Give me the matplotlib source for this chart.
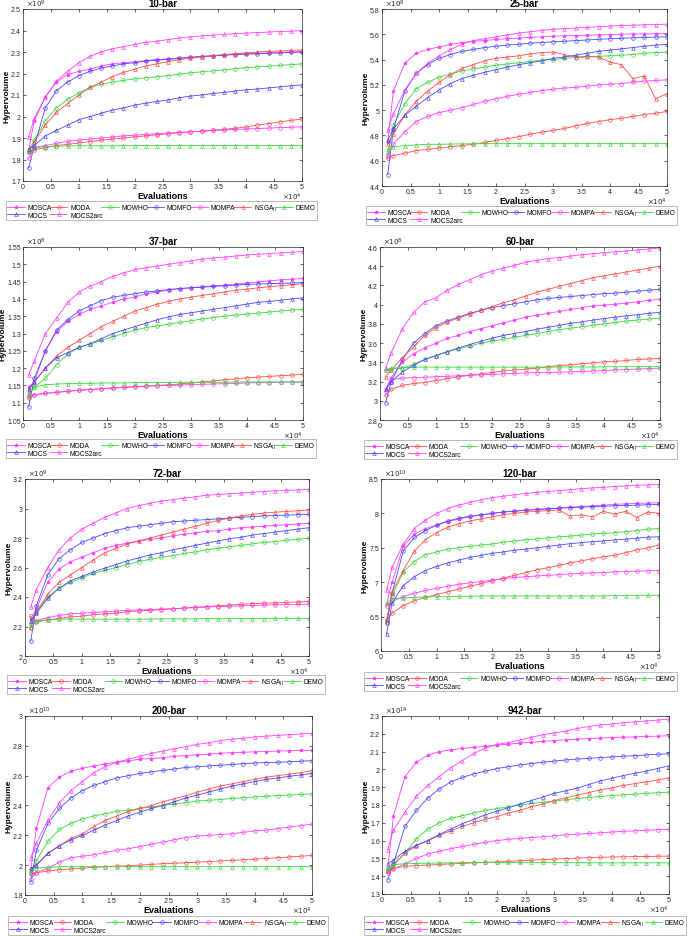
import matplotlib
matplotlib.use("Agg")
import matplotlib.pyplot as plt
from matplotlib.ticker import FuncFormatter

plt.rcParams['font.family'] = ['Liberation Sans', 'DejaVu Sans']

# evaluations where the hypervolume was sampled
evals = [1000, 2000, 4000, 6000, 8000, 10000, 12000, 14000, 16000, 18000, 20000,
         22000, 24000, 26000, 28000, 30000, 32000, 34000, 36000, 38000, 40000,
         42000, 44000, 46000, 48000, 50000]

algos = ['MOSCA', 'MODA', 'MOWHO', 'MOMFO', 'MOMPA', 'NSGA$_\\mathrm{II}$', 'DEMO', 'MOCS', 'MOCS2arc']

# ---- 10-bar (x1e9)
b10_mosca = [1.84, 1.98, 2.09, 2.16, 2.195, 2.21, 2.22, 2.235, 2.245, 2.25, 2.255, 2.26, 2.265, 2.268, 2.272, 2.276, 2.28, 2.283, 2.286, 2.289, 2.292, 2.294, 2.296, 2.298, 2.30, 2.302]
b10_moda = [1.84, 1.845, 1.855, 1.865, 1.87, 1.877, 1.883, 1.89, 1.895, 1.90, 1.905, 1.91, 1.915, 1.92, 1.925, 1.928, 1.932, 1.936, 1.94, 1.945, 1.952, 1.96, 1.967, 1.975, 1.982, 1.988]
b10_mowho = [1.84, 1.89, 1.98, 2.04, 2.08, 2.11, 2.135, 2.15, 2.16, 2.168, 2.175, 2.18, 2.185, 2.19, 2.197, 2.203, 2.208, 2.212, 2.217, 2.222, 2.227, 2.231, 2.234, 2.238, 2.241, 2.245]
b10_momfo = [1.76, 1.86, 2.04, 2.12, 2.16, 2.19, 2.21, 2.225, 2.235, 2.245, 2.25, 2.258, 2.262, 2.266, 2.27, 2.275, 2.278, 2.282, 2.285, 2.288, 2.29, 2.292, 2.294, 2.296, 2.298, 2.30]
b10_mompa = [1.805, 1.855, 1.865, 1.875, 1.885, 1.89, 1.895, 1.90, 1.905, 1.91, 1.913, 1.917, 1.92, 1.923, 1.926, 1.929, 1.932, 1.935, 1.937, 1.94, 1.942, 1.944, 1.946, 1.948, 1.95, 1.952]
b10_nsga = [1.835, 1.88, 1.96, 2.02, 2.06, 2.10, 2.135, 2.16, 2.185, 2.205, 2.22, 2.235, 2.245, 2.255, 2.265, 2.27, 2.278, 2.283, 2.288, 2.292, 2.296, 2.30, 2.303, 2.305, 2.307, 2.31]
b10_demo = [1.84, 1.855, 1.86, 1.862, 1.863, 1.864, 1.864, 1.864, 1.864, 1.864, 1.865, 1.865, 1.865, 1.865, 1.865, 1.865, 1.865, 1.865, 1.865, 1.865, 1.865, 1.865, 1.865, 1.865, 1.865, 1.865]
b10_mocs = [1.85, 1.865, 1.91, 1.935, 1.96, 1.985, 2.0, 2.015, 2.03, 2.04, 2.053, 2.062, 2.07, 2.077, 2.087, 2.095, 2.10, 2.107, 2.112, 2.118, 2.124, 2.128, 2.133, 2.138, 2.143, 2.147]
b10_mocs2 = [1.905, 1.99, 2.09, 2.165, 2.21, 2.25, 2.28, 2.30, 2.315, 2.325, 2.335, 2.345, 2.35, 2.358, 2.365, 2.37, 2.375, 2.378, 2.382, 2.385, 2.388, 2.39, 2.393, 2.395, 2.397, 2.40]

# ---- 25-bar (x1e8)
b25_mosca = [4.75, 5.15, 5.37, 5.45, 5.48, 5.50, 5.52, 5.535, 5.545, 5.55, 5.56, 5.565, 5.57, 5.575, 5.58, 5.585, 5.588, 5.59, 5.593, 5.595, 5.598, 5.60, 5.602, 5.603, 5.604, 5.605]
b25_moda = [4.62, 4.64, 4.66, 4.68, 4.69, 4.70, 4.71, 4.72, 4.73, 4.745, 4.76, 4.775, 4.79, 4.81, 4.825, 4.84, 4.855, 4.875, 4.895, 4.91, 4.925, 4.935, 4.95, 4.965, 4.975, 4.99]
b25_mowho = [4.65, 4.88, 5.05, 5.17, 5.22, 5.26, 5.285, 5.31, 5.325, 5.34, 5.355, 5.365, 5.375, 5.385, 5.395, 5.40, 5.41, 5.415, 5.42, 5.425, 5.43, 5.435, 5.44, 5.45, 5.455, 5.46]
b25_momfo = [4.49, 4.85, 5.15, 5.29, 5.36, 5.41, 5.44, 5.465, 5.48, 5.495, 5.505, 5.515, 5.52, 5.53, 5.535, 5.54, 5.545, 5.55, 5.555, 5.56, 5.565, 5.568, 5.572, 5.575, 5.578, 5.58]
b25_mompa = [4.64, 4.73, 4.83, 4.91, 4.95, 4.98, 5.00, 5.02, 5.045, 5.07, 5.09, 5.11, 5.125, 5.14, 5.155, 5.165, 5.175, 5.18, 5.19, 5.20, 5.205, 5.21, 5.22, 5.23, 5.235, 5.24]
b25_nsga = [4.73, 4.81, 4.96, 5.07, 5.15, 5.22, 5.28, 5.33, 5.36, 5.39, 5.41, 5.42, 5.43, 5.445, 5.455, 5.46, 5.44, 5.42, 5.425, 5.42, 5.38, 5.36, 5.25, 5.27, 5.09, 5.13]
b25_demo = [4.69, 4.71, 4.72, 4.725, 4.73, 4.73, 4.732, 4.733, 4.734, 4.735, 4.735, 4.735, 4.735, 4.735, 4.735, 4.735, 4.735, 4.735, 4.735, 4.735, 4.735, 4.735, 4.735, 4.735, 4.735, 4.735]
b25_mocs = [4.76, 4.85, 4.96, 5.03, 5.10, 5.16, 5.21, 5.25, 5.275, 5.30, 5.32, 5.34, 5.36, 5.375, 5.39, 5.41, 5.42, 5.435, 5.45, 5.465, 5.475, 5.485, 5.495, 5.505, 5.515, 5.52]
b25_mocs2 = [4.84, 4.97, 5.16, 5.29, 5.37, 5.43, 5.48, 5.52, 5.55, 5.565, 5.58, 5.595, 5.61, 5.62, 5.63, 5.64, 5.645, 5.65, 5.655, 5.66, 5.665, 5.67, 5.672, 5.675, 5.677, 5.68]

# ---- 37-bar (x1e8)
b37_mosca = [1.145, 1.16, 1.25, 1.305, 1.335, 1.355, 1.37, 1.38, 1.39, 1.40, 1.405, 1.415, 1.42, 1.425, 1.43, 1.432, 1.435, 1.438, 1.44, 1.443, 1.446, 1.449, 1.452, 1.455, 1.457, 1.459]
b37_moda = [1.115, 1.122, 1.127, 1.13, 1.133, 1.136, 1.138, 1.14, 1.142, 1.144, 1.146, 1.148, 1.15, 1.152, 1.154, 1.157, 1.16, 1.163, 1.166, 1.169, 1.172, 1.174, 1.176, 1.178, 1.18, 1.182]
b37_mowho = [1.12, 1.145, 1.17, 1.21, 1.24, 1.26, 1.27, 1.28, 1.29, 1.30, 1.31, 1.317, 1.322, 1.327, 1.332, 1.337, 1.342, 1.346, 1.35, 1.353, 1.356, 1.359, 1.362, 1.365, 1.368, 1.37]
b37_momfo = [1.088, 1.17, 1.25, 1.31, 1.34, 1.365, 1.38, 1.395, 1.405, 1.41, 1.415, 1.42, 1.423, 1.427, 1.43, 1.432, 1.434, 1.436, 1.438, 1.44, 1.442, 1.443, 1.444, 1.445, 1.446, 1.447]
b37_mompa = [1.12, 1.123, 1.127, 1.13, 1.133, 1.136, 1.138, 1.14, 1.143, 1.145, 1.147, 1.148, 1.149, 1.15, 1.151, 1.152, 1.153, 1.154, 1.155, 1.156, 1.157, 1.158, 1.158, 1.159, 1.16, 1.16]
b37_nsga = [1.135, 1.16, 1.20, 1.235, 1.26, 1.28, 1.30, 1.32, 1.335, 1.35, 1.365, 1.375, 1.385, 1.393, 1.40, 1.405, 1.41, 1.415, 1.42, 1.425, 1.428, 1.432, 1.435, 1.438, 1.441, 1.444]
b37_demo = [1.125, 1.145, 1.152, 1.154, 1.155, 1.156, 1.156, 1.157, 1.157, 1.157, 1.158, 1.158, 1.158, 1.158, 1.159, 1.159, 1.159, 1.159, 1.159, 1.16, 1.16, 1.16, 1.16, 1.16, 1.16, 1.16]
b37_mocs = [1.14, 1.16, 1.20, 1.23, 1.245, 1.26, 1.27, 1.285, 1.30, 1.31, 1.32, 1.33, 1.34, 1.348, 1.355, 1.36, 1.365, 1.37, 1.375, 1.38, 1.385, 1.39, 1.393, 1.396, 1.40, 1.403]
b37_mocs2 = [1.18, 1.22, 1.30, 1.345, 1.39, 1.42, 1.437, 1.45, 1.465, 1.475, 1.485, 1.49, 1.495, 1.50, 1.505, 1.51, 1.515, 1.518, 1.521, 1.524, 1.527, 1.529, 1.531, 1.533, 1.535, 1.537]

# ---- 60-bar (x1e8)
b60_mosca = [3.12, 3.24, 3.40, 3.49, 3.55, 3.60, 3.65, 3.68, 3.72, 3.75, 3.78, 3.81, 3.84, 3.87, 3.89, 3.91, 3.93, 3.95, 3.97, 3.985, 3.995, 4.005, 4.015, 4.03, 4.045, 4.055]
b60_moda = [3.06, 3.12, 3.16, 3.18, 3.19, 3.21, 3.23, 3.25, 3.265, 3.28, 3.295, 3.31, 3.32, 3.33, 3.34, 3.355, 3.365, 3.375, 3.385, 3.395, 3.405, 3.41, 3.42, 3.43, 3.435, 3.44]
b60_mowho = [3.32, 3.33, 3.34, 3.38, 3.43, 3.47, 3.51, 3.54, 3.57, 3.60, 3.62, 3.64, 3.66, 3.68, 3.70, 3.72, 3.74, 3.755, 3.77, 3.785, 3.80, 3.815, 3.83, 3.84, 3.85, 3.86]
b60_momfo = [2.98, 3.20, 3.43, 3.60, 3.70, 3.78, 3.83, 3.87, 3.91, 3.94, 3.97, 3.99, 4.01, 4.03, 4.05, 4.065, 4.075, 4.085, 4.095, 4.105, 4.115, 4.12, 4.13, 4.14, 4.15, 4.16]
b60_mompa = [3.10, 3.22, 3.235, 3.24, 3.245, 3.25, 3.255, 3.26, 3.265, 3.27, 3.275, 3.28, 3.285, 3.29, 3.292, 3.295, 3.298, 3.30, 3.305, 3.31, 3.315, 3.32, 3.325, 3.33, 3.335, 3.34]
b60_nsga = [3.25, 3.32, 3.45, 3.56, 3.68, 3.76, 3.82, 3.86, 3.90, 3.94, 3.98, 4.02, 4.05, 4.09, 4.13, 4.16, 4.19, 4.22, 4.25, 4.28, 4.30, 4.32, 4.34, 4.36, 4.38, 4.40]
b60_demo = [3.32, 3.34, 3.345, 3.35, 3.35, 3.35, 3.35, 3.35, 3.35, 3.35, 3.35, 3.35, 3.35, 3.35, 3.35, 3.35, 3.352, 3.352, 3.352, 3.352, 3.354, 3.354, 3.354, 3.355, 3.355, 3.355]
b60_mocs = [3.12, 3.20, 3.30, 3.37, 3.43, 3.47, 3.51, 3.55, 3.585, 3.62, 3.65, 3.68, 3.70, 3.72, 3.745, 3.765, 3.785, 3.805, 3.82, 3.84, 3.855, 3.87, 3.885, 3.895, 3.91, 3.92]
b60_mocs2 = [3.34, 3.50, 3.75, 3.92, 4.03, 4.07, 4.15, 4.21, 4.26, 4.31, 4.35, 4.38, 4.41, 4.44, 4.46, 4.48, 4.49, 4.505, 4.52, 4.53, 4.54, 4.55, 4.56, 4.57, 4.58, 4.59]

# ---- 72-bar (x1e9)
b72_mosca = [2.25, 2.32, 2.50, 2.59, 2.64, 2.67, 2.70, 2.73, 2.75, 2.765, 2.78, 2.79, 2.80, 2.815, 2.825, 2.835, 2.845, 2.85, 2.86, 2.87, 2.875, 2.88, 2.885, 2.89, 2.895, 2.90]
b72_moda = [2.27, 2.23, 2.245, 2.255, 2.265, 2.27, 2.28, 2.285, 2.29, 2.30, 2.305, 2.31, 2.315, 2.32, 2.325, 2.33, 2.335, 2.34, 2.345, 2.35, 2.355, 2.358, 2.36, 2.363, 2.366, 2.37]
b72_mowho = [2.22, 2.30, 2.40, 2.46, 2.50, 2.53, 2.56, 2.58, 2.60, 2.62, 2.64, 2.655, 2.67, 2.68, 2.695, 2.705, 2.72, 2.73, 2.74, 2.75, 2.76, 2.77, 2.775, 2.785, 2.79, 2.80]
b72_momfo = [2.10, 2.34, 2.55, 2.66, 2.72, 2.77, 2.80, 2.83, 2.85, 2.87, 2.88, 2.89, 2.90, 2.91, 2.915, 2.92, 2.925, 2.93, 2.935, 2.94, 2.945, 2.95, 2.952, 2.955, 2.958, 2.96]
b72_mompa = [2.19, 2.24, 2.26, 2.275, 2.285, 2.29, 2.295, 2.30, 2.305, 2.31, 2.312, 2.315, 2.318, 2.32, 2.325, 2.328, 2.332, 2.335, 2.338, 2.34, 2.343, 2.345, 2.347, 2.349, 2.35, 2.352]
b72_nsga = [2.20, 2.30, 2.42, 2.50, 2.55, 2.60, 2.65, 2.70, 2.73, 2.76, 2.78, 2.80, 2.82, 2.84, 2.86, 2.88, 2.90, 2.92, 2.935, 2.95, 2.96, 2.97, 2.975, 2.98, 2.985, 2.99]
b72_demo = [2.21, 2.24, 2.245, 2.25, 2.25, 2.25, 2.25, 2.25, 2.25, 2.25, 2.25, 2.25, 2.252, 2.252, 2.252, 2.252, 2.253, 2.253, 2.253, 2.254, 2.254, 2.254, 2.255, 2.255, 2.255, 2.255]
b72_mocs = [2.24, 2.29, 2.39, 2.46, 2.51, 2.54, 2.57, 2.595, 2.62, 2.645, 2.665, 2.685, 2.70, 2.72, 2.735, 2.75, 2.765, 2.78, 2.795, 2.805, 2.82, 2.83, 2.84, 2.85, 2.86, 2.87]
b72_mocs2 = [2.33, 2.45, 2.60, 2.72, 2.80, 2.86, 2.90, 2.94, 2.97, 3.00, 3.02, 3.035, 3.05, 3.06, 3.07, 3.08, 3.09, 3.095, 3.10, 3.105, 3.11, 3.115, 3.12, 3.123, 3.126, 3.13]

# ---- 120-bar (x1e10)
b120_mosca = [6.68, 7.00, 7.52, 7.70, 7.78, 7.83, 7.88, 7.92, 7.95, 7.98, 8.00, 8.02, 8.035, 8.05, 8.06, 8.07, 8.08, 8.09, 8.10, 8.11, 8.12, 8.13, 8.14, 8.145, 8.15, 8.155]
b120_moda = [6.45, 6.55, 6.66, 6.73, 6.78, 6.82, 6.86, 6.90, 6.94, 6.98, 7.02, 7.06, 7.10, 7.14, 7.18, 7.21, 7.245, 7.28, 7.31, 7.34, 7.37, 7.39, 7.43, 7.47, 7.50, 7.54]
b120_mowho = [6.40, 6.80, 7.15, 7.30, 7.40, 7.44, 7.48, 7.50, 7.52, 7.54, 7.555, 7.58, 7.60, 7.615, 7.63, 7.645, 7.66, 7.67, 7.685, 7.70, 7.71, 7.72, 7.735, 7.75, 7.77, 7.78]
b120_momfo = [6.40, 6.85, 7.45, 7.65, 7.75, 7.83, 7.89, 7.93, 7.96, 7.98, 8.00, 8.02, 8.03, 8.045, 8.055, 8.065, 8.075, 8.085, 8.09, 8.10, 8.105, 8.11, 8.115, 8.12, 8.125, 8.13]
b120_mompa = [6.65, 6.72, 6.79, 6.84, 6.88, 6.91, 6.94, 6.97, 6.99, 7.01, 7.03, 7.05, 7.07, 7.08, 7.09, 7.10, 7.11, 7.12, 7.13, 7.135, 7.14, 7.15, 7.155, 7.16, 7.165, 7.17]
b120_nsga = [6.45, 6.85, 7.17, 7.45, 7.62, 7.72, 7.80, 7.85, 7.89, 7.92, 7.95, 7.98, 8.00, 8.02, 8.03, 8.04, 8.05, 7.96, 7.98, 7.95, 8.03, 7.99, 8.03, 7.94, 8.02, 8.00]
b120_demo = [6.70, 6.76, 6.77, 6.78, 6.785, 6.79, 6.79, 6.795, 6.795, 6.80, 6.80, 6.80, 6.80, 6.80, 6.80, 6.80, 6.80, 6.80, 6.80, 6.80, 6.80, 6.805, 6.805, 6.805, 6.81, 6.81]
b120_mocs = [6.25, 6.70, 6.95, 7.08, 7.17, 7.23, 7.28, 7.32, 7.36, 7.39, 7.42, 7.44, 7.465, 7.48, 7.50, 7.52, 7.54, 7.56, 7.575, 7.59, 7.60, 7.615, 7.625, 7.64, 7.655, 7.66]
b120_mocs2 = [6.88, 7.22, 7.55, 7.78, 7.90, 8.00, 8.07, 8.12, 8.16, 8.20, 8.23, 8.25, 8.27, 8.29, 8.305, 8.32, 8.33, 8.345, 8.36, 8.37, 8.38, 8.39, 8.40, 8.41, 8.415, 8.42]

# ---- 200-bar (x1e10)
b200_mosca = [1.97, 2.25, 2.52, 2.59, 2.63, 2.65, 2.665, 2.68, 2.69, 2.70, 2.71, 2.715, 2.72, 2.73, 2.735, 2.74, 2.745, 2.75, 2.755, 2.757, 2.76, 2.762, 2.765, 2.767, 2.769, 2.77]
b200_moda = [1.94, 1.95, 1.96, 1.97, 1.975, 1.98, 1.985, 1.99, 1.993, 1.996, 2.0, 2.005, 2.01, 2.013, 2.016, 2.02, 2.024, 2.028, 2.032, 2.036, 2.04, 2.045, 2.05, 2.055, 2.06, 2.065]
b200_mowho = [1.95, 2.03, 2.16, 2.24, 2.28, 2.31, 2.33, 2.345, 2.36, 2.37, 2.38, 2.39, 2.40, 2.41, 2.42, 2.43, 2.435, 2.44, 2.447, 2.452, 2.457, 2.462, 2.466, 2.47, 2.474, 2.478]
b200_momfo = [1.89, 2.10, 2.28, 2.38, 2.45, 2.50, 2.535, 2.56, 2.585, 2.60, 2.615, 2.625, 2.635, 2.645, 2.655, 2.66, 2.665, 2.67, 2.675, 2.68, 2.685, 2.688, 2.69, 2.693, 2.697, 2.70]
b200_mompa = [1.91, 1.95, 1.98, 2.02, 2.05, 2.06, 2.07, 2.085, 2.10, 2.11, 2.125, 2.14, 2.155, 2.17, 2.185, 2.195, 2.20, 2.205, 2.21, 2.22, 2.23, 2.235, 2.245, 2.255, 2.265, 2.275]
b200_nsga = [1.97, 2.00, 2.08, 2.13, 2.18, 2.21, 2.26, 2.30, 2.33, 2.36, 2.38, 2.40, 2.425, 2.445, 2.465, 2.49, 2.51, 2.53, 2.545, 2.56, 2.575, 2.59, 2.60, 2.61, 2.62, 2.635]
b200_demo = [1.97, 1.98, 1.985, 1.99, 1.99, 1.99, 1.99, 1.99, 1.99, 1.99, 1.99, 1.99, 1.99, 1.99, 1.99, 1.99, 1.99, 1.99, 1.99, 1.99, 1.99, 1.99, 1.99, 1.99, 1.99, 1.99]
b200_mocs = [1.98, 2.00, 2.08, 2.13, 2.17, 2.20, 2.235, 2.27, 2.30, 2.33, 2.355, 2.38, 2.40, 2.425, 2.45, 2.47, 2.49, 2.51, 2.53, 2.545, 2.56, 2.575, 2.585, 2.595, 2.605, 2.615]
b200_mocs2 = [2.05, 2.15, 2.30, 2.42, 2.50, 2.56, 2.62, 2.66, 2.69, 2.71, 2.73, 2.75, 2.765, 2.78, 2.795, 2.81, 2.82, 2.835, 2.845, 2.85, 2.86, 2.865, 2.87, 2.875, 2.88, 2.885]

# ---- 942-bar (x1e14)
b942_mosca = [1.44, 1.74, 1.96, 2.04, 2.08, 2.10, 2.11, 2.118, 2.124, 2.13, 2.137, 2.142, 2.147, 2.152, 2.157, 2.162, 2.166, 2.17, 2.173, 2.176, 2.179, 2.181, 2.183, 2.185, 2.187, 2.189]
b942_moda = [1.43, 1.445, 1.455, 1.46, 1.463, 1.466, 1.469, 1.472, 1.475, 1.477, 1.48, 1.483, 1.487, 1.49, 1.493, 1.496, 1.499, 1.502, 1.504, 1.506, 1.508, 1.509, 1.51, 1.511, 1.512, 1.513]
b942_mowho = [1.44, 1.47, 1.53, 1.61, 1.665, 1.70, 1.725, 1.74, 1.755, 1.77, 1.78, 1.79, 1.80, 1.808, 1.815, 1.822, 1.83, 1.836, 1.842, 1.848, 1.853, 1.857, 1.861, 1.865, 1.869, 1.872]
b942_momfo = [1.38, 1.47, 1.68, 1.77, 1.84, 1.89, 1.93, 1.955, 1.975, 1.99, 2.005, 2.015, 2.025, 2.033, 2.04, 2.047, 2.053, 2.058, 2.062, 2.066, 2.07, 2.074, 2.077, 2.081, 2.085, 2.088]
b942_mompa = [1.42, 1.44, 1.47, 1.50, 1.525, 1.54, 1.555, 1.567, 1.58, 1.59, 1.60, 1.607, 1.612, 1.617, 1.622, 1.627, 1.632, 1.636, 1.64, 1.644, 1.648, 1.652, 1.655, 1.658, 1.661, 1.664]
b942_nsga = [1.43, 1.46, 1.53, 1.57, 1.60, 1.63, 1.655, 1.68, 1.70, 1.72, 1.735, 1.755, 1.77, 1.79, 1.805, 1.825, 1.84, 1.855, 1.87, 1.885, 1.895, 1.91, 1.92, 1.93, 1.94, 1.953]
b942_demo = [1.44, 1.465, 1.47, 1.472, 1.473, 1.474, 1.475, 1.476, 1.477, 1.477, 1.478, 1.478, 1.478, 1.478, 1.477, 1.477, 1.476, 1.476, 1.475, 1.475, 1.475, 1.475, 1.475, 1.475, 1.475, 1.475]
b942_mocs = [1.47, 1.49, 1.54, 1.575, 1.60, 1.635, 1.665, 1.695, 1.72, 1.745, 1.765, 1.785, 1.805, 1.825, 1.845, 1.865, 1.88, 1.895, 1.915, 1.935, 1.95, 1.965, 1.978, 1.99, 2.005, 2.02]
b942_mocs2 = [1.55, 1.66, 1.76, 1.85, 1.91, 1.96, 2.01, 2.05, 2.09, 2.12, 2.14, 2.15, 2.165, 2.18, 2.195, 2.205, 2.215, 2.23, 2.24, 2.25, 2.255, 2.262, 2.267, 2.272, 2.277, 2.283]

MAG = '#ff3cff'
RED = '#ff4a4a'
GRN = '#3ad83a'
BLU = '#4848ff'
colors = [MAG, RED, GRN, BLU, MAG, RED, GRN, BLU, MAG]
markers = ['*', 'o', 'o', 'o', 'o', '^', '^', '^', '^']

# title, exponent, ylim, ystep, series, axes px (l, t, r, b), legend px (l, t, r, b)
panels = [
    ('10-bar', 9, (1.7, 2.5), 0.1,
     [b10_mosca, b10_moda, b10_mowho, b10_momfo, b10_mompa, b10_nsga, b10_demo, b10_mocs, b10_mocs2],
     (23, 10, 302, 182), (6, 202, 317, 219)),
    ('25-bar', 8, (4.4, 5.8), 0.2,
     [b25_mosca, b25_moda, b25_mowho, b25_momfo, b25_mompa, b25_nsga, b25_demo, b25_mocs, b25_mocs2],
     (382, 10, 667, 187), (366, 207, 677, 224)),
    ('37-bar', 8, (1.05, 1.55), 0.05,
     [b37_mosca, b37_moda, b37_mowho, b37_momfo, b37_mompa, b37_nsga, b37_demo, b37_mocs, b37_mocs2],
     (23, 248, 303, 421), (6, 440, 316, 456)),
    ('60-bar', 8, (2.8, 4.6), 0.2,
     [b60_mosca, b60_moda, b60_mowho, b60_momfo, b60_mompa, b60_nsga, b60_demo, b60_mocs, b60_mocs2],
     (380, 248, 660, 421), (364, 441, 677, 459)),
    ('72-bar', 9, (2.0, 3.2), 0.2,
     [b72_mosca, b72_moda, b72_mowho, b72_momfo, b72_mompa, b72_nsga, b72_demo, b72_mocs, b72_mocs2],
     (25, 480, 309, 657), (7, 676, 325, 694)),
    ('120-bar', 10, (6.0, 8.5), 0.5,
     [b120_mosca, b120_moda, b120_mowho, b120_momfo, b120_mompa, b120_nsga, b120_demo, b120_mocs, b120_mocs2],
     (381, 480, 659, 652), (364, 673, 677, 691)),
    ('200-bar', 10, (1.8, 3.0), 0.2,
     [b200_mosca, b200_moda, b200_mowho, b200_momfo, b200_mompa, b200_nsga, b200_demo, b200_mocs, b200_mocs2],
     (25, 717, 312, 896), (8, 917, 328, 935)),
    ('942-bar', 14, (1.3, 2.3), 0.1,
     [b942_mosca, b942_moda, b942_mowho, b942_momfo, b942_mompa, b942_nsga, b942_demo, b942_mocs, b942_mocs2],
     (382, 717, 669, 895), (364, 917, 686, 936)),
]

W, H = 688, 937
fig = plt.figure(figsize=(W / 100, H / 100), dpi=100)
fmt = FuncFormatter(lambda v, p: '{:g}'.format(round(v, 4)))
x = [e / 1e4 for e in evals]
order = [0, 7, 1, 8, 2, 3, 4, 5, 6]  # column-major fill -> row-major look

for title, expo, ylim, ystep, series, (l, t, r, b), (ll, lt, lr, lb) in panels:
    ax = fig.add_axes([l / W, 1 - b / H, (r - l) / W, (b - t) / H])
    handles = []
    for ys, c, m in zip(series, colors, markers):
        h, = ax.plot(x, ys, color=c, marker=m, lw=0.6, ms=2.6 if m != '*' else 2.8,
                     mew=0.5, mfc='none' if m != '*' else c)
        handles.append(h)
    ax.set_xlim(0, 5)
    ax.set_ylim(*ylim)
    n = int(round((ylim[1] - ylim[0]) / ystep))
    ax.set_yticks([ylim[0] + i * ystep for i in range(n + 1)])
    ax.set_xticks([i * 0.5 for i in range(11)])
    ax.xaxis.set_major_formatter(fmt)
    ax.yaxis.set_major_formatter(fmt)
    ax.tick_params(direction='in', length=2, width=0.5, labelsize=5,
                   colors='#262626', top=True, right=True, pad=1.5)
    for s in ax.spines.values():
        s.set_linewidth(0.5)
        s.set_color('#262626')
    ax.set_title(title, fontsize=7, fontweight='bold', pad=2)
    ax.set_xlabel('Evaluations', fontsize=6.5, fontweight='bold', labelpad=0.5)
    ax.set_ylabel('Hypervolume', fontsize=6, fontweight='bold', labelpad=0.5)
    ax.text(0.01, 1.0, r'$\times10^{%d}$' % expo, transform=ax.transAxes,
            fontsize=5, ha='left', va='bottom', color='#262626')
    ax.text(1.0, -0.055, r'$\times10^{4}$', transform=ax.transAxes,
            fontsize=5, ha='right', va='top', color='#262626')
    leg = fig.legend([handles[i] for i in order], [algos[i] for i in order],
                     loc='upper left', mode='expand', ncol=7,
                     bbox_to_anchor=(ll / W, 1 - lb / H, (lr - ll) / W, (lb - lt) / H),
                     bbox_transform=fig.transFigure, fontsize=4.8, frameon=True,
                     fancybox=False, edgecolor='#9a9a9a', borderpad=0.2,
                     labelspacing=0.05, handlelength=2.6, handletextpad=0.4,
                     columnspacing=0.5, borderaxespad=0)
    leg.get_frame().set_linewidth(0.6)

fig.savefig('out.png', dpi=100)
